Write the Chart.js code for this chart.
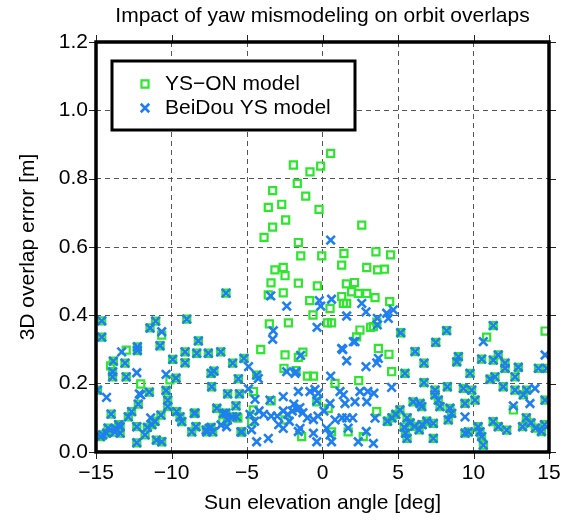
<!DOCTYPE html>
<html>
<head>
<meta charset="utf-8">
<script src="https://cdn.jsdelivr.net/npm/chart.js@4/dist/chart.umd.min.js"></script>
<style>
  html, body { margin: 0; padding: 0; background: #fff; }
  canvas { display: block; }
</style>
</head>
<body>
<canvas id="chart" width="572" height="522"></canvas>
<script>
// Axis ticks
const xTicks = [-15, -10, -5, 0, 5, 10, 15];
const yTicks = [0, 0.2, 0.4, 0.6, 0.8, 1.0, 1.2];

// Text
const chartTitle = 'Impact of yaw mismodeling on orbit overlaps';
const xTitle = 'Sun elevation angle [deg]';
const yTitle = '3D overlap error [m]';
const seriesNames = ['YS\u2212ON model', 'BeiDou YS model'];

// YS-ON model: [sun elevation (deg), 3D overlap error (m)]
const ysOnModel = [
  [-14.62,0.384],[-14.62,0.336],[-11.05,0.383],[-11.42,0.363],[-8.99,0.389],[-10.76,0.311],
  [-12.26,0.308],[-12.26,0.297],[-8.22,0.325],[-9.1,0.293],[-9.1,0.261],[-8.33,0.289],
  [-7.56,0.289],[-6.74,0.293],[-9.92,0.271],[-13.85,0.266],[-13.08,0.26],[-13.9,0.235],
  [-13.9,0.22],[-13.0,0.22],[-7.19,0.237],[-5.95,0.26],[-5.2,0.274],[-5.57,0.214],
  [-7.34,0.191],[-11.47,0.175],[-14.9,0.181],[-10.36,0.18],[-10.25,0.152],[-10.25,0.133],
  [-12.2,0.14],[-12.64,0.118],[-12.86,0.103],[-14.0,0.111],[-10.7,0.108],[-9.66,0.118],
  [-9.44,0.103],[-8.44,0.114],[-7.0,0.128],[-6.57,0.113],[-5.68,0.103],[-9.32,0.089],
  [-8.38,0.074],[-7.5,0.069],[-8.66,0.059],[-7.67,0.059],[-5.35,0.059],[-12.3,0.074],
  [-11.6,0.072],[-11.3,0.08],[-11.1,0.09],[-13.4,0.074],[-13.4,0.055],[-13.7,0.068],
  [-13.75,0.058],[-14.7,0.045],[-14.3,0.055],[-12.3,0.027],[-11.0,0.035],[-10.65,0.03],
  [-11.75,0.05],[-6.28,0.17],[-5.5,0.17],[-5.73,0.135],[-6.4,0.114],[-6.3,0.094],
  [-5.95,0.103],[-5.4,0.059],[-7.38,0.23],[-6.39,0.465],[-9.7,0.216],[-8.49,0.113],
  [-7.7,0.064],[-7.38,0.072],[-7.27,0.059],[-14.56,0.05],[-14.2,0.07],[-13.5,0.08],
  [-10.65,0.342],[-13.0,0.298],[-14.03,0.252],[-10.1,0.211],[-12.04,0.199],[-6.6,0.089],[-5.6,0.099],
  [-4.36,0.225],[4.3,0.09],[4.6,0.1],[4.85,0.11],
  [0.54,0.874],[-1.93,0.84],[-0.12,0.837],[-0.83,0.82],[-1.67,0.786],[-3.3,0.765],
  [-1.11,0.749],[-2.7,0.725],[-3.59,0.716],[-0.23,0.71],[-2.44,0.679],[-3.3,0.658],
  [-3.87,0.628],[-1.6,0.613],[-1.44,0.574],[-0.05,0.574],[1.42,0.581],[2.6,0.664],
  [3.54,0.586],[4.51,0.577],[1.27,0.547],[2.93,0.54],[3.65,0.533],[4.1,0.535],
  [-2.6,0.54],[-3.15,0.533],[-2.48,0.516],[-3.41,0.495],[-1.6,0.494],[-0.34,0.486],
  [1.58,0.492],[2.12,0.496],[-2.6,0.466],[-3.59,0.46],[-0.85,0.443],[1.27,0.455],
  [1.38,0.435],[1.6,0.435],[1.93,0.469],[2.37,0.464],[2.93,0.464],[3.48,0.452],
  [4.45,0.44],[0.5,0.42],[-0.63,0.401],[-2.26,0.378],[-3.52,0.375],[0.32,0.378],
  [0.6,0.378],[2.48,0.357],[2.26,0.337],[3.19,0.365],[3.6,0.38],[3.37,0.367],
  [3.7,0.303],[4.4,0.286],[-2.48,0.284],[-1.6,0.277],[-1.3,0.292],[-2.55,0.245],
  [-1.75,0.238],[-1.0,0.222],[-0.6,0.222],[4.58,0.235],[-4.09,0.3],[0.83,0.201],
  [2.4,0.209],[-4.58,0.177],[-0.38,0.147],[0.38,0.128],[3.59,0.118],[-2.48,0.094],
  [-4.58,0.123],[-4.69,0.089],[-1.38,0.045],[0.6,0.059],[1.7,0.059],[2.7,0.045],[-3.4,0.15],
  [11.31,0.37],[8.22,0.355],[5.18,0.349],[7.5,0.321],[6.13,0.294],[10.54,0.272],
  [9.0,0.279],[8.89,0.264],[6.72,0.26],[11.31,0.269],[11.64,0.284],[12.09,0.26],
  [12.09,0.245],[12.97,0.248],[14.3,0.245],[14.85,0.245],[5.46,0.23],[9.77,0.23],
  [11.1,0.213],[11.42,0.22],[12.75,0.22],[6.72,0.203],[8.27,0.191],[9.33,0.186],
  [9.88,0.181],[7.45,0.181],[7.45,0.167],[11.97,0.191],[12.75,0.181],[13.52,0.181],
  [14.74,0.152],[6.0,0.147],[6.46,0.142],[6.57,0.133],[7.67,0.152],[7.78,0.133],
  [8.44,0.128],[8.55,0.113],[8.33,0.094],[9.44,0.142],[10.1,0.152],[5.13,0.123],
  [5.6,0.1],[5.8,0.085],[6.1,0.075],[6.4,0.065],[6.6,0.08],[6.9,0.09],
  [7.34,0.084],[9.44,0.055],[9.66,0.059],[10.3,0.074],[10.43,0.059],[10.54,0.045],
  [10.65,0.02],[11.3,0.089],[11.64,0.074],[12.2,0.064],[13.25,0.074],[7.34,0.04],
  [5.4,0.073],[5.5,0.055],[5.6,0.04],[13.5,0.1],[13.8,0.085],[14.1,0.07],
  [14.5,0.06],[14.7,0.08],[13.3,0.167],
  [10.87,0.336],[14.74,0.354],[12.64,0.123]
];

// BeiDou YS model: [sun elevation (deg), 3D overlap error (m)]
const beidouYsModel = [
  [-14.62,0.384],[-14.62,0.336],[-11.05,0.383],[-11.42,0.363],[-8.99,0.389],[-10.76,0.311],
  [-12.26,0.308],[-12.26,0.297],[-8.22,0.325],[-9.1,0.293],[-9.1,0.261],[-8.33,0.289],
  [-7.56,0.289],[-6.74,0.293],[-9.92,0.271],[-13.85,0.266],[-13.08,0.26],[-13.9,0.235],
  [-13.9,0.22],[-13.0,0.22],[-7.19,0.237],[-5.95,0.26],[-5.2,0.274],[-5.57,0.214],
  [-7.34,0.191],[-11.47,0.175],[-14.9,0.181],[-10.36,0.18],[-10.25,0.152],[-10.25,0.133],
  [-12.2,0.14],[-12.64,0.118],[-12.86,0.103],[-14.0,0.111],[-10.7,0.108],[-9.66,0.118],
  [-9.44,0.103],[-8.44,0.114],[-7.0,0.128],[-6.57,0.113],[-5.68,0.103],[-9.32,0.089],
  [-8.38,0.074],[-7.5,0.069],[-8.66,0.059],[-7.67,0.059],[-5.35,0.059],[-12.3,0.074],
  [-11.6,0.072],[-11.3,0.08],[-11.1,0.09],[-13.4,0.074],[-13.4,0.055],[-13.7,0.068],
  [-13.75,0.058],[-14.7,0.045],[-14.3,0.055],[-12.3,0.027],[-11.0,0.035],[-10.65,0.03],
  [-11.75,0.05],[-6.28,0.17],[-5.5,0.17],[-5.73,0.135],[-6.4,0.114],[-6.3,0.094],
  [-5.95,0.103],[-5.4,0.059],[-7.38,0.23],[-6.39,0.465],[-9.7,0.216],[-8.49,0.113],
  [-7.7,0.064],[-7.38,0.072],[-7.27,0.059],[-14.56,0.05],[-14.2,0.07],[-13.5,0.08],
  [-10.65,0.352],[-13.3,0.293],[-12.3,0.232],[-10.36,0.227],[-12.04,0.167],[-14.3,0.16],
  [-11.38,0.1],[-6.35,0.074],[-12.13,0.17],[-6.72,0.079],
  [-4.36,0.225],[4.3,0.09],[4.6,0.1],[4.85,0.11],
  [0.54,0.62],[-3.43,0.457],[-2.37,0.427],[-0.21,0.443],[-0.12,0.427],[0.6,0.447],
  [2.6,0.435],[2.88,0.41],[1.6,0.398],[3.63,0.391],[4.36,0.391],[4.69,0.416],
  [4.25,0.406],[-0.36,0.365],[2.15,0.323],[1.27,0.303],[1.6,0.267],[-1.45,0.283],
  [3.7,0.274],[3.59,0.261],[2.88,0.25],[-2.37,0.235],[-1.75,0.235],[0.54,0.222],
  [-3.26,0.355],[-3.3,0.33],[1.34,0.3],[2.04,0.323],[3.63,0.372],[-4.9,0.25],
  [-4.25,0.215],[4.58,0.189],[-1.82,0.23],[-4.47,0.154],[-4.9,0.185],[-2.6,0.162],
  [-1.6,0.177],[-0.83,0.177],[-0.5,0.183],[-0.28,0.172],[-0.38,0.15],[0.5,0.142],
  [1.16,0.177],[1.38,0.167],[1.49,0.142],[2.48,0.177],[2.15,0.147],[2.93,0.147],
  [3.0,0.177],[3.4,0.172],[-3.48,0.152],[-4.2,0.12],[-3.9,0.11],[-3.4,0.105],
  [-3.0,0.105],[-2.6,0.12],[-2.3,0.11],[-2.2,0.09],[-2.0,0.12],[-1.7,0.125],
  [-1.5,0.13],[-1.3,0.115],[-1.0,0.1],[-0.6,0.095],[-0.3,0.105],[-2.6,0.069],
  [-1.49,0.069],[-1.6,0.06],[-0.6,0.055],[-0.38,0.03],[-4.36,0.03],[-3.59,0.04],
  [0.27,0.069],[0.5,0.05],[0.6,0.03],[0.83,0.094],[1.6,0.1],[1.7,0.07],
  [2.0,0.1],[2.37,0.03],[3.37,0.025],[3.48,0.099],[-4.5,0.09],[-4.8,0.11],
  [-4.7,0.065],[-2.9,0.08],[-1.9,0.14],[0.1,0.12],[1.3,0.1],[2.9,0.06],
  [11.31,0.37],[8.22,0.355],[5.18,0.349],[7.5,0.321],[6.13,0.294],[10.54,0.272],
  [9.0,0.279],[8.89,0.264],[6.72,0.26],[11.31,0.269],[11.64,0.284],[12.09,0.26],
  [12.09,0.245],[12.97,0.248],[14.3,0.245],[14.85,0.245],[5.46,0.23],[9.77,0.23],
  [11.1,0.213],[11.42,0.22],[12.75,0.22],[6.72,0.203],[8.27,0.191],[9.33,0.186],
  [9.88,0.181],[7.45,0.181],[7.45,0.167],[11.97,0.191],[12.75,0.181],[13.52,0.181],
  [14.74,0.152],[6.0,0.147],[6.46,0.142],[6.57,0.133],[7.67,0.152],[7.78,0.133],
  [8.44,0.128],[8.55,0.113],[8.33,0.094],[9.44,0.142],[10.1,0.152],[5.13,0.123],
  [5.6,0.1],[5.8,0.085],[6.1,0.075],[6.4,0.065],[6.6,0.08],[6.9,0.09],
  [7.34,0.084],[9.44,0.055],[9.66,0.059],[10.3,0.074],[10.43,0.059],[10.54,0.045],
  [10.65,0.02],[11.3,0.089],[11.64,0.074],[12.2,0.064],[13.25,0.074],[7.34,0.04],
  [5.4,0.073],[5.5,0.055],[5.6,0.04],[13.5,0.1],[13.8,0.085],[14.1,0.07],
  [14.5,0.06],[14.7,0.08],[13.3,0.167],
  [10.65,0.323],[14.74,0.284],[14.07,0.186],[9.44,0.103],[12.64,0.135],[13.74,0.142]
];

const FONT = '"Liberation Sans", Arial, Helvetica, sans-serif';
const GREEN = '#2fe62f';
const BLUE = '#1f7ff0';

const toPoints = arr => arr.map(([x, y]) => ({ x, y }));

// Frame, outer tick marks, titles and the boxed legend
const decorations = {
  id: 'decorations',
  afterDatasetsDraw(chart) {
    const { ctx, chartArea: a, scales } = chart;
    ctx.save();

    // outward tick marks on all four sides
    ctx.strokeStyle = '#222';
    ctx.lineWidth = 1;
    const tl = 7;
    ctx.beginPath();
    xTicks.forEach(v => {
      const px = Math.round(scales.x.getPixelForValue(v)) + 0.5;
      ctx.moveTo(px, a.bottom); ctx.lineTo(px, a.bottom + tl);
      ctx.moveTo(px, a.top); ctx.lineTo(px, a.top - tl);
    });
    yTicks.forEach(v => {
      const py = Math.round(scales.y.getPixelForValue(v)) + 0.5;
      ctx.moveTo(a.left, py); ctx.lineTo(a.left - tl, py);
      ctx.moveTo(a.right, py); ctx.lineTo(a.right + tl, py);
    });
    ctx.stroke();

    // heavy plot frame
    ctx.strokeStyle = '#000';
    ctx.lineWidth = 3.5;
    ctx.strokeRect(a.left, a.top, a.right - a.left, a.bottom - a.top);

    // titles
    ctx.fillStyle = '#000';
    ctx.font = '21px ' + FONT;
    ctx.textAlign = 'center';
    ctx.textBaseline = 'middle';
    const cx = (a.left + a.right) / 2;
    const cy = (a.top + a.bottom) / 2;
    ctx.fillText(chartTitle, cx, 16);
    ctx.fillText(xTitle, cx, 503);
    ctx.save();
    ctx.translate(28, cy);
    ctx.rotate(-Math.PI / 2);
    ctx.fillText(yTitle, 0, 0);
    ctx.restore();

    // legend box
    const lx = 112, ly = 61, lw = 243, lh = 69;
    ctx.fillStyle = '#fff';
    ctx.fillRect(lx, ly, lw, lh);
    ctx.strokeStyle = '#000';
    ctx.lineWidth = 3;
    ctx.strokeRect(lx, ly, lw, lh);
    const rows = [84, 108];
    const mx = 145;
    chart.data.datasets.forEach((ds, i) => {
      const s = Math.SQRT1_2 * ds.pointRadius;
      ctx.strokeStyle = ds.borderColor;
      ctx.lineWidth = ds.pointBorderWidth;
      ctx.beginPath();
      if (ds.pointStyle === 'rect') {
        ctx.rect(mx - s, rows[i] - s, 2 * s, 2 * s);
      } else {
        ctx.moveTo(mx - s, rows[i] - s); ctx.lineTo(mx + s, rows[i] + s);
        ctx.moveTo(mx - s, rows[i] + s); ctx.lineTo(mx + s, rows[i] - s);
      }
      ctx.stroke();
      ctx.fillStyle = '#000';
      ctx.font = '21px ' + FONT;
      ctx.textAlign = 'left';
      ctx.textBaseline = 'middle';
      ctx.fillText(seriesNames[i], 165, rows[i]);
    });

    ctx.restore();
  }
};

new Chart(document.getElementById('chart'), {
  type: 'scatter',
  data: {
    datasets: [
      {
        label: seriesNames[0],
        data: toPoints(ysOnModel),
        pointStyle: 'rect',
        pointRadius: 5,
        pointBorderWidth: 2.2,
        borderColor: GREEN,
        backgroundColor: 'rgba(0,0,0,0)',
        order: 2
      },
      {
        label: seriesNames[1],
        data: toPoints(beidouYsModel),
        pointStyle: 'crossRot',
        pointRadius: 6,
        pointBorderWidth: 2.6,
        borderColor: BLUE,
        backgroundColor: BLUE,
        order: 1
      }
    ]
  },
  options: {
    responsive: false,
    animation: false,
    events: [],
    layout: { padding: { top: 42, right: 23, left: 0, bottom: 0 } },
    plugins: {
      legend: { display: false },
      tooltip: { enabled: false },
      title: { display: false }
    },
    scales: {
      x: {
        type: 'linear',
        min: -15,
        max: 15,
        afterBuildTicks: s => { s.ticks = xTicks.map(v => ({ value: v })); },
        afterFit: s => { s.height = 70; },
        grid: { color: '#555', lineWidth: 1, drawTicks: false },
        border: { display: false, dash: [5, 4] },
        ticks: {
          padding: 9,
          color: '#000',
          font: { family: FONT, size: 21 },
          callback: v => (v < 0 ? '\u2212' + Math.abs(v) : String(v))
        }
      },
      y: {
        type: 'linear',
        min: 0,
        max: 1.2,
        afterBuildTicks: s => { s.ticks = yTicks.map(v => ({ value: v })); },
        afterFit: s => { s.width = 96; },
        grid: { color: '#555', lineWidth: 1, drawTicks: false },
        border: { display: false, dash: [5, 4] },
        ticks: {
          padding: 8,
          color: '#000',
          font: { family: FONT, size: 21 },
          callback: v => Number(v).toFixed(1)
        }
      }
    }
  },
  plugins: [decorations]
});
</script>
</body>
</html>
